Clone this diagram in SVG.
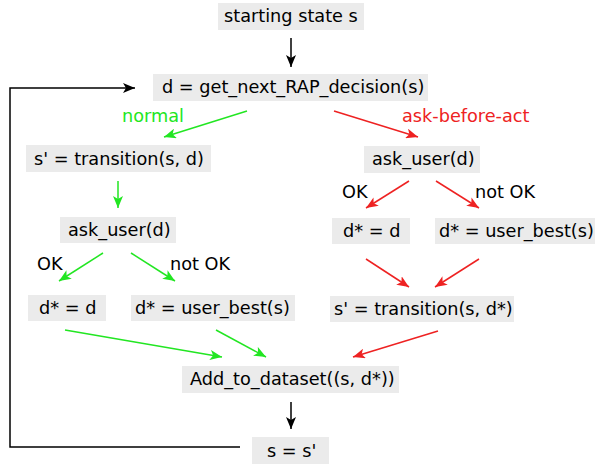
<svg xmlns="http://www.w3.org/2000/svg" width="595" height="464" viewBox="0 0 595 464">
<defs>
<style>
.box{fill:#ebebeb;}
.t{font-family:"DejaVu Sans",sans-serif;font-size:17.7px;fill:#000;}
.g{fill:#22e622;}
.r{fill:#ee2222;}
.k{stroke:#000;stroke-width:1.5;fill:none;}
.gl{stroke:#22e622;stroke-width:1.5;fill:none;}
.rl{stroke:#ee2222;stroke-width:1.5;fill:none;}
</style>
<marker id="ak" viewBox="0 0 12 10" refX="12" refY="5" markerWidth="12" markerHeight="10" markerUnits="userSpaceOnUse" orient="auto"><path d="M0,0 L12,5 L0,10 L3,5 z" fill="#000"/></marker>
<marker id="ag" viewBox="0 0 12 10" refX="12" refY="5" markerWidth="12" markerHeight="10" markerUnits="userSpaceOnUse" orient="auto"><path d="M0,0 L12,5 L0,10 L3,5 z" fill="#22e622"/></marker>
<marker id="ar" viewBox="0 0 12 10" refX="12" refY="5" markerWidth="12" markerHeight="10" markerUnits="userSpaceOnUse" orient="auto"><path d="M0,0 L12,5 L0,10 L3,5 z" fill="#ee2222"/></marker>
</defs>
<rect width="595" height="464" fill="#fff"/>
<g id="connectors">
<line class="k" x1="291" y1="38" x2="291" y2="67" marker-end="url(#ak)"/>
<polyline class="k" points="240,447 10,447 10,88 135,88" marker-end="url(#ak)"/>
<line class="gl" x1="247" y1="111" x2="164" y2="137" marker-end="url(#ag)"/>
<line class="rl" x1="334" y1="111" x2="418" y2="137" marker-end="url(#ar)"/>
<line class="gl" x1="118" y1="181" x2="118" y2="208" marker-end="url(#ag)"/>
<line class="gl" x1="103" y1="253" x2="59" y2="281" marker-end="url(#ag)"/>
<line class="gl" x1="131" y1="253" x2="175" y2="281" marker-end="url(#ag)"/>
<line class="gl" x1="65" y1="330" x2="222" y2="357" marker-end="url(#ag)"/>
<line class="gl" x1="216" y1="330" x2="266" y2="357" marker-end="url(#ag)"/>
<line class="rl" x1="409" y1="181" x2="366" y2="208" marker-end="url(#ar)"/>
<line class="rl" x1="436" y1="181" x2="479" y2="208" marker-end="url(#ar)"/>
<line class="rl" x1="366" y1="259" x2="409" y2="287" marker-end="url(#ar)"/>
<line class="rl" x1="479" y1="259" x2="435" y2="287" marker-end="url(#ar)"/>
<line class="rl" x1="438" y1="331" x2="353" y2="357" marker-end="url(#ar)"/>
<line class="k" x1="291" y1="402" x2="291" y2="429" marker-end="url(#ak)"/>
</g>
<g id="labels">
<text class="t g" x="122" y="122">normal</text>
<text class="t r" x="402" y="122">ask-before-act</text>
<text class="t" x="37" y="270">OK</text>
<text class="t" x="170" y="270">not OK</text>
<text class="t" x="342" y="198">OK</text>
<text class="t" x="475" y="198">not OK</text>
</g>
<g id="start"><rect class="box" x="218" y="3" width="146" height="27"/><text class="t" x="224" y="22">starting state s</text></g>
<g id="decision"><rect class="box" x="153" y="74" width="275" height="27"/><text class="t" x="162" y="93">d = get_next_RAP_decision(s)</text></g>
<g id="transition_normal"><rect class="box" x="26" y="145" width="185" height="27"/><text class="t" x="34" y="165">s' = transition(s, d)</text></g>
<g id="ask_user_normal"><rect class="box" x="60" y="217" width="116" height="26"/><text class="t" x="68" y="236">ask_user(d)</text></g>
<g id="dstar_d_normal"><rect class="box" x="28" y="295" width="78" height="26"/><text class="t" x="39" y="314">d* = d</text></g>
<g id="dstar_best_normal"><rect class="box" x="131" y="295" width="164" height="26"/><text class="t" x="135" y="314">d* = user_best(s)</text></g>
<g id="ask_user_aba"><rect class="box" x="364" y="146" width="116" height="27"/><text class="t" x="372" y="165">ask_user(d)</text></g>
<g id="dstar_d_aba"><rect class="box" x="332" y="218" width="78" height="26"/><text class="t" x="343" y="237">d* = d</text></g>
<g id="dstar_best_aba"><rect class="box" x="435" y="218" width="160" height="26"/><text class="t" x="439" y="237">d* = user_best(s)</text></g>
<g id="transition_aba"><rect class="box" x="330" y="296" width="184" height="26"/><text class="t" x="334" y="315">s' = transition(s, d*)</text></g>
<g id="add"><rect class="box" x="182" y="366" width="217" height="27"/><text class="t" x="190" y="385">Add_to_dataset((s, d*))</text></g>
<g id="update"><rect class="box" x="252" y="437" width="77" height="27"/><text class="t" x="267" y="457">s = s'</text></g>
</svg>
